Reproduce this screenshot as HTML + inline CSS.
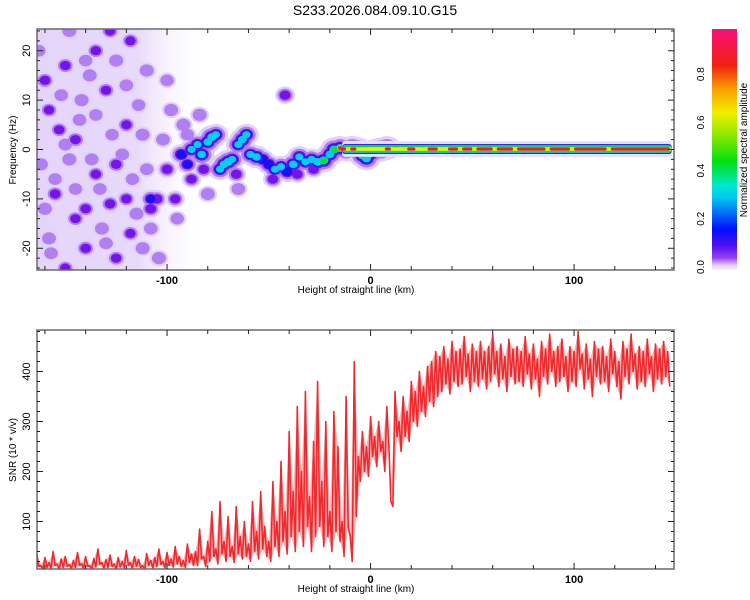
<!DOCTYPE html>
<html><head><meta charset="utf-8">
<style>
html,body{margin:0;padding:0;background:#fff;}
svg{display:block;font-family:"Liberation Sans",sans-serif;}
</style></head>
<body>
<svg id="fig" width="750" height="600" viewBox="0 0 750 600">
<defs>
<linearGradient id="cbgrad" x1="0" y1="1" x2="0" y2="0">
<stop offset="0" stop-color="#f4eefc"/>
<stop offset="0.02" stop-color="#e0d0f8"/>
<stop offset="0.05" stop-color="#9a40f0"/>
<stop offset="0.1" stop-color="#5010f0"/>
<stop offset="0.17" stop-color="#0010ff"/>
<stop offset="0.3" stop-color="#00c8f0"/>
<stop offset="0.35" stop-color="#00e8d0"/>
<stop offset="0.45" stop-color="#00e010"/>
<stop offset="0.55" stop-color="#80e800"/>
<stop offset="0.65" stop-color="#f0f000"/>
<stop offset="0.75" stop-color="#f8a000"/>
<stop offset="0.85" stop-color="#f02010"/>
<stop offset="1" stop-color="#f81078"/>
</linearGradient>
<linearGradient id="hazegrad" x1="0" y1="0" x2="1" y2="0">
<stop offset="0" stop-color="#e4d4fa"/>
<stop offset="0.6" stop-color="#e8dafa"/>
<stop offset="1" stop-color="#ffffff" stop-opacity="0"/>
</linearGradient>
<clipPath id="clipTop"><rect x="37" y="29" width="637" height="241"/></clipPath>
<clipPath id="clipBot"><rect x="37" y="330" width="637" height="239"/></clipPath>
</defs>
<text x="375" y="15" text-anchor="middle" font-size="14">S233.2026.084.09.10.G15</text>
<g id="topPanel"></g>
<g id="botPanel"></g>
<g id="cbPanel"></g>
</svg>
<script>
// ---- data ----
var xDomain = [-163.9, 149.1];
var fDomain = [-24.4, 24.4];
var snrDomain = [5, 483];
var xTickLabels = [-100, 0, 100];
var fTickLabels = [-20, -10, 0, 10, 20];
var snrTickLabels = [100, 200, 300, 400];
var cbTickLabels = ["0.0", "0.2", "0.4", "0.6", "0.8"];
var cbTickValues = [0, 0.2, 0.4, 0.6, 0.8];

// scattered noise blobs [km, Hz, amplitude]
var noiseX = [-160,-158,-150,-145,-162,-155,-140,-132,-128,-120,-115,-108,-105,-112,-125,-140,-150,-158,-135,-125,-118,-110,-130,-142,-120,-112,-135,-148,-100,-96,-98,-125,-118,-104,-145,-160,-153,-138,-128,-148,-42,-108,-88,-92,-80,-84,-65,-155,-143,-133,-122,-114,-102,-163,-137,-127,-152,-117,-108,-145,-130,-95,-90,-100,-157,-140,-120,-110,-150,-135];
var noiseF = [14,8,17,2,-3,-9,-12,-16,-11,-10,-13,-12,-10,-20,-22,-20,-24,-18,20,18,22,16,12,10,5,3,-5,-2,-4,-10,8,-3,-17,-22,-14,-12,4,15,24,24,11,-10,-6,5,-9,7,-8,-6,6,-8,-1,9,2,20,-2,3,11,-6,-16,-8,-19,-14,3,14,-21,18,13,-4,1,7];
var noiseA = [0.12,0.1,0.11,0.12,0.08,0.12,0.11,0.08,0.12,0.1,0.08,0.13,0.14,0.08,0.1,0.12,0.09,0.08,0.1,0.08,0.1,0.08,0.1,0.08,0.1,0.08,0.1,0.08,0.12,0.1,0.08,0.12,0.1,0.08,0.1,0.08,0.1,0.08,0.1,0.08,0.13,0.18,0.1,0.08,0.08,0.08,0.06,0.05,0.06,0.05,0.06,0.05,0.06,0.05,0.06,0.05,0.06,0.05,0.06,0.05,0.06,0.05,0.05,0.05,0.06,0.05,0.06,0.05,0.06,0.05];
// ridge blobs
var ridgeX = [-93,-90,-88,-85,-83,-80,-78,-76,-74,-72,-70,-68,-65,-63,-61,-59,-56,-53,-50,-47,-44,-41,-38,-35,-32,-29,-26,-23,-20,-18,-15,-12,-9,-6,-4,-2,0,2,5,8,-82,-66,-48,-36,-28];
var ridgeF = [-1,-3,0,1,-1,1.5,2.5,3,-4,-3,-2.5,-2,1,2,3,-1,-1.5,-2,-3,-4,-3.5,-4.5,-3,-1.5,-2.5,-2,-2.5,-2.2,-1,0,0.3,0,0.3,0,-1.2,-1.8,-0.8,-0.3,0,0.3,-4,-5,-6,-5,-4];
var ridgeA = [0.25,0.2,0.3,0.3,0.35,0.35,0.4,0.3,0.3,0.35,0.4,0.3,0.3,0.35,0.3,0.3,0.35,0.25,0.25,0.3,0.3,0.25,0.35,0.3,0.3,0.3,0.4,0.45,0.35,0.5,0.8,0.6,0.85,0.6,0.45,0.4,0.5,0.7,0.6,0.85,0.12,0.12,0.12,0.12,0.12];
// steady band
var bandStart = -14, bandEnd = 148, bandF = 0.1;
var redStart = [-15,-10,7,18,28,38,45,52,62,72,88,100,118];
var redEnd   = [-12,-7,10,22,33,43,50,60,70,86,98,116,147];

// SNR min/max per 2 km bin starting at -166
var snrX0 = -166, snrStep = 2;
var snrMax = [20,35,12,28,18,40,15,25,30,14,
22,38,16,30,12,26,45,18,24,33,
15,28,20,42,18,30,24,12,36,22,
28,45,20,38,25,50,30,22,55,35,
40,85,30,60,120,45,140,60,110,50,
130,70,100,55,140,80,160,90,60,180,
100,220,120,280,160,330,200,360,150,260,
380,180,300,120,320,250,100,350,70,420,
230,280,250,310,270,300,260,330,140,360,
300,350,320,380,360,400,370,410,420,440,
430,450,425,460,440,445,470,435,455,440,
460,440,450,475,440,455,430,465,445,450,
440,470,435,455,425,460,445,475,440,450,
465,430,450,440,480,435,455,425,460,445,
450,430,465,440,420,460,445,475,435,450,
440,465,430,455,445,460,440];
var snrMin = [5,10,4,8,6,12,5,8,10,6,
8,12,5,10,4,9,14,6,8,10,
5,9,7,12,6,10,8,4,12,7,
10,14,7,12,9,15,10,8,18,12,
12,25,10,20,30,15,35,20,30,18,
35,25,30,20,40,25,45,30,20,50,
30,60,35,70,40,80,50,90,40,70,
90,50,70,40,80,60,30,90,20,110,
180,200,190,230,210,240,200,250,130,270,
240,270,260,300,290,320,310,340,330,350,
360,375,355,380,370,375,390,360,380,370,
385,365,380,395,370,385,360,390,375,380,
370,395,365,385,350,390,375,400,370,380,
390,360,380,370,405,365,385,350,390,375,
380,360,395,370,345,390,375,400,365,380,
370,395,360,385,375,390,370];

// ---- scales ----
var NS = "http://www.w3.org/2000/svg";
var PL = 37, PR = 674, TT = 29, TB = 270, BT = 330, BB = 569;
function sx(v){ return PL + (v - xDomain[0]) / (xDomain[1] - xDomain[0]) * (PR - PL); }
function sfy(v){ return TB - (v - fDomain[0]) / (fDomain[1] - fDomain[0]) * (TB - TT); }
function ssy(v){ return BB - (v - snrDomain[0]) / (snrDomain[1] - snrDomain[0]) * (BB - BT); }
var HZPX = (TB - TT) / (fDomain[1] - fDomain[0]);
function mk(tag, attrs, parent){
  var e = document.createElementNS(NS, tag);
  for (var k in attrs) e.setAttribute(k, attrs[k]);
  parent.appendChild(e); return e;
}
var levels = [0.01, 0.04, 0.09, 0.17, 0.3, 0.45, 0.6, 0.75];
var levelColors = ["#e2d0f9","#b080f2","#7414e8","#1a10f8","#00d0ee","#10e020","#e8f000","#f02818"];
var levelRad = [12, 9, 6.5, 5.2, 4.0, 3.1, 2.5, 2.0];

var topPanel = document.getElementById('topPanel');
var gT = mk('g', {'clip-path':'url(#clipTop)'}, topPanel);
var haze = mk('rect', {x: sx(-166), y: TT, width: sx(-80) - sx(-166), height: TB - TT, fill: 'url(#hazegrad)'}, gT);



function blob(x, f, a, layer, parent, name){
  if (levels[layer] > a) return;
  var scale = 0.6 + 0.4 * Math.min(1, a / 0.4);
  var c = mk('ellipse', {cx: sx(x), cy: sfy(f), rx: levelRad[layer] * scale * 1.15, ry: levelRad[layer] * scale, fill: levelColors[layer]}, parent);
  
  
}
for (var L = 0; L < levels.length; L++) {
  for (var i = 0; i < noiseX.length; i++) blob(noiseX[i], noiseF[i], noiseA[i], L, gT, 'noise-blob');
  for (var j = 0; j < ridgeX.length; j++) blob(ridgeX[j], ridgeF[j], ridgeA[j], L, gT, 'ridge-blob');
}
var bandLayers = [[1.6,'#eadff9'],[1.0,'#1010f0'],[0.78,'#00d0ee'],[0.58,'#10e020'],[0.38,'#e8f000']];
for (var b = 0; b < bandLayers.length; b++) {
  var h = bandLayers[b][0];
  var r = mk('rect', {x: sx(bandStart), y: sfy(bandF + h), width: sx(bandEnd) - sx(bandStart), height: 2 * h * HZPX, fill: bandLayers[b][1], rx: 3}, gT);
  
  
}
for (var k = 0; k < redStart.length; k++) {
  var rr = mk('rect', {x: sx(redStart[k]), y: sfy(bandF + 0.32), width: sx(redEnd[k]) - sx(redStart[k]), height: 0.64 * HZPX, fill: '#f0183a', rx: 1.5}, gT);
  
  
}

function frame(parent, y0, y1, name){
  var f = mk('rect', {x: PL, y: y0, width: PR - PL, height: y1 - y0, fill: 'none', stroke: '#6a6a6a', 'stroke-width': 1.5}, parent);
  
  
  for (var v = -160; v <= 140; v += 20) {
    var X = sx(v), len = (v % 100 === 0) ? 6 : 4;
    var t1 = mk('line', {x1: X, y1: y1, x2: X, y2: y1 - len, stroke: '#222', 'stroke-width': 1}, parent);
    
    
    var t2 = mk('line', {x1: X, y1: y0, x2: X, y2: y0 + len, stroke: '#222', 'stroke-width': 1}, parent);
    
    
  }
  xTickLabels.forEach(function(v){
    var t = mk('text', {x: sx(v), y: y1 + 14, 'text-anchor': 'middle', 'font-size': 11, 'font-weight': 'bold'}, parent);
    t.textContent = v;
    
    
  });
  var xl = mk('text', {x: 356, y: y1 + 23, 'text-anchor': 'middle', 'font-size': 10}, parent);
  xl.textContent = 'Height of straight line (km)';
  
  
}
frame(topPanel, TT, TB, 'spectrogram-frame');
for (var fv = -24; fv <= 24; fv += 2) {
  var Y = sfy(fv), len = (fv % 10 === 0) ? 6 : 3;
  var a = mk('line', {x1: PL, y1: Y, x2: PL + len, y2: Y, stroke: '#222'}, topPanel);
  
  
  var a2 = mk('line', {x1: PR, y1: Y, x2: PR - len, y2: Y, stroke: '#222'}, topPanel);
  
  
}
fTickLabels.forEach(function(v){
  var Y = sfy(v);
  var t = mk('text', {x: 30, y: Y, 'text-anchor': 'middle', 'font-size': 11, transform: 'rotate(-90 30 ' + Y + ')'}, topPanel);
  t.textContent = v;
  
  
});
var yl = mk('text', {x: 16, y: 150, 'text-anchor': 'middle', 'font-size': 10, transform: 'rotate(-90 16 150)'}, topPanel);
yl.textContent = 'Frequency (Hz)';



var botPanel = document.getElementById('botPanel');
var gB = mk('g', {'clip-path': 'url(#clipBot)'}, botPanel);
var pts = [], upper = [], lower = [];
for (var s = 0; s < snrMax.length; s++) {
  var xv = snrX0 + s * snrStep;
  pts.push(sx(xv).toFixed(1) + ',' + ssy(snrMax[s]).toFixed(1));
  pts.push(sx(xv + snrStep / 2).toFixed(1) + ',' + ssy(snrMin[s]).toFixed(1));
  upper.push(sx(xv).toFixed(1) + ',' + ssy(snrMax[s]).toFixed(1));
  lower.unshift(sx(xv + snrStep / 2).toFixed(1) + ',' + ssy(snrMin[s]).toFixed(1));
}
var env = mk('polygon', {points: upper.concat(lower).join(' '), fill: '#ee2a2e', 'fill-opacity': 0.35, stroke: 'none'}, gB);


var snrLine = mk('polyline', {points: pts.join(' '), fill: 'none', stroke: '#ee2a2e', 'stroke-width': 1.6, 'stroke-linejoin': 'round'}, gB);


frame(botPanel, BT, BB, 'snr-frame');
for (var sv = 20; sv <= 480; sv += 20) {
  var Y2 = ssy(sv), l2 = (sv % 100 === 0) ? 6 : 3;
  var b1 = mk('line', {x1: PL, y1: Y2, x2: PL + l2, y2: Y2, stroke: '#222'}, botPanel);
  
  
  var b2 = mk('line', {x1: PR, y1: Y2, x2: PR - l2, y2: Y2, stroke: '#222'}, botPanel);
  
  
}
snrTickLabels.forEach(function(v){
  var Y = ssy(v);
  var t = mk('text', {x: 30, y: Y, 'text-anchor': 'middle', 'font-size': 11, transform: 'rotate(-90 30 ' + Y + ')'}, botPanel);
  t.textContent = v;
  
  
});
var yl2 = mk('text', {x: 16, y: 450, 'text-anchor': 'middle', 'font-size': 10, transform: 'rotate(-90 16 450)'}, botPanel);
yl2.textContent = 'SNR (10 * v/v)';



var cbPanel = document.getElementById('cbPanel');
var CT = 29, CBt = 270;
function cy(v){ return CBt - v * (CBt - CT); }
var cr = mk('rect', {x: 712, y: CT, width: 25, height: CBt - CT, fill: 'url(#cbgrad)'}, cbPanel);


cbTickValues.forEach(function(v, i){
  var Y = cy(v) - 3;
  var t = mk('text', {x: 704, y: Y, 'text-anchor': 'middle', 'font-size': 10, transform: 'rotate(-90 704 ' + Y + ')'}, cbPanel);
  t.textContent = cbTickLabels[i];
  
  
});
var cl = mk('text', {x: 747, y: 150, 'text-anchor': 'middle', 'font-size': 10, transform: 'rotate(-90 747 150)'}, cbPanel);
cl.textContent = 'Normalized spectral amplitude';


</script>
</body></html>
